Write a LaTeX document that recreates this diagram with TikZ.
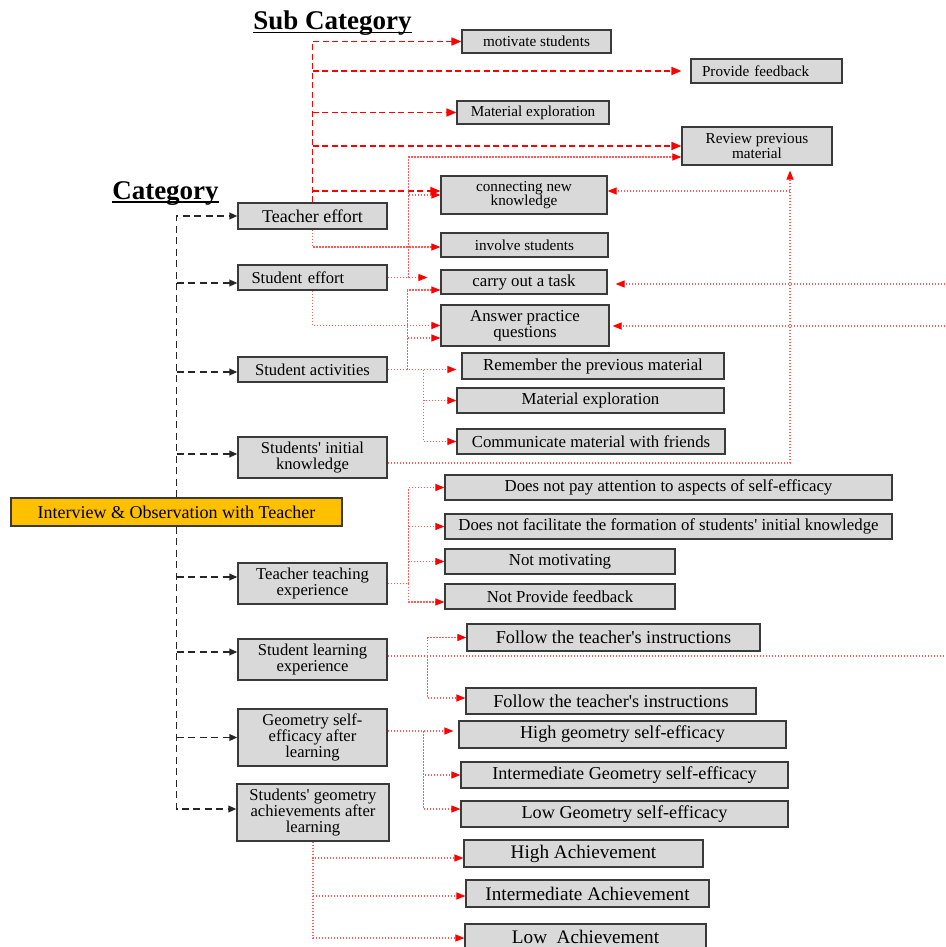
\documentclass[tikz,border=0pt]{standalone}
\usepackage{fontspec}
\setmainfont{Liberation Serif}
\usepackage{xcolor}
\usepackage{tikz}
\usetikzlibrary{arrows.meta}
\definecolor{boxgray}{HTML}{D9D9D9}
\definecolor{boxedge}{HTML}{3A3A3A}
\definecolor{amber}{HTML}{FFC000}
\definecolor{dotred}{HTML}{FF5A5A}

\begin{document}
\begin{tikzpicture}[x=1pt,y=-1pt,
	box/.style={draw=boxedge,fill=boxgray,line width=1.2pt,inner sep=0pt,align=center},
	catbox/.style={box,minimum width=149,font=\fontsize{16.6}{16}\selectfont},
	topbox/.style={box,font=\fontsize{15.2}{14.5}\selectfont},
	subbox/.style={box,font=\fontsize{16.8}{16}\selectfont},
	lowbox/.style={box,font=\fontsize{18.2}{18}\selectfont},
	achbox/.style={box,font=\fontsize{19.2}{19}\selectfont},
	title/.style={inner sep=0pt,anchor=base,font=\fontsize{27}{27}\selectfont\bfseries},
	catarrow/.style={draw=black!85,line width=1.9pt,dash pattern=on 7pt off 4.5pt,-{Triangle[length=8pt,width=6.5pt]}},
	tarrow/.style={draw=red,line width=1.5pt,dash pattern=on 6pt off 3.5pt,-{Triangle[length=10pt,width=8pt]}},
	dline/.style={draw=dotred,line width=1.1pt,dash pattern=on 1.5pt off 1.5pt},
	darrow/.style={dline,-{Triangle[length=9pt,width=7pt,color=red]}}]
 	\useasboundingbox (0,0) rectangle (945,947);
 	\node[title] (subcat) at (332.5,30) {Sub Category};
 	\draw[line width=1.4pt] ([yshift=-2.5]subcat.base west) -- ([yshift=-2.5]subcat.base east);
 	\node[title] (cat) at (165.5,199) {Category};
 	\draw[line width=1.4pt] ([yshift=-3]cat.base west) -- ([yshift=-3]cat.base east);
 	\node[box,fill=amber,minimum width=331,minimum height=28,font=\fontsize{18}{18}\selectfont] (main) at (176.5,512) {Interview \& Observation with Teacher};
 	\node[catbox,minimum height=26,font=\fontsize{18}{18}\selectfont] (t effort) at (312.5,216) {Teacher effort};
 	\node[catbox,minimum height=25,text width=122,align=left] (s effort) at (312.5,277.5) {Student effort};
 	\node[catbox,minimum height=25] (s act) at (312.5,369.5) {Student activities};
 	\node[catbox,minimum height=41] (s init) at (312.5,457.5) {Students\textquotesingle{} initial\\knowledge};
 	\node[catbox,minimum height=41] (t teach) at (312.5,583.5) {Teacher teaching\\experience};
 	\node[catbox,minimum height=41] (s learn) at (312.5,659.5) {Student learning\\experience};
 	\node[catbox,minimum height=57] (geo eff) at (312.5,737.5) {Geometry self-\\efficacy after\\learning};
 	\node[catbox,minimum width=152,minimum height=57] (geo ach) at (313,812.5) {Students\textquotesingle{} geometry\\achievements after\\learning};
 	\node[topbox,minimum width=149,minimum height=23] (motiv) at (536.5,41.5) {motivate students};
 	\node[topbox,minimum width=151,minimum height=24,text width=129,align=left] (feedback) at (766.5,71) {Provide feedback};
 	\node[topbox,minimum width=152,minimum height=23] (mat one) at (533,112.5) {Material exploration};
 	\node[topbox,minimum width=150,minimum height=38] (review) at (757,146) {Review previous\\material};
 	\node[topbox,minimum width=166,minimum height=38] (conn) at (524,195) {connecting new\\knowledge};
 	\node[topbox,minimum width=167,minimum height=24] (involve) at (524.5,245) {involve students};
 	\node[subbox,minimum width=166,minimum height=24] (carry) at (524,282) {carry out a task};
 	\node[subbox,minimum width=168,minimum height=41] (answer) at (525,325.5) {Answer practice\\questions};
 	\node[subbox,minimum width=262,minimum height=26] (remember) at (593,366) {Remember the previous material};
 	\node[subbox,minimum width=267,minimum height=25] (mat two) at (590.5,400.5) {Material exploration};
 	\node[subbox,minimum width=268,minimum height=25] (comm) at (591,441.5) {Communicate material with friends};
 	\node[subbox,minimum width=447,minimum height=25] (dnp) at (668.5,487.5) {Does not pay attention to aspects of self-efficacy};
 	\node[subbox,minimum width=447,minimum height=25] (dnf) at (668.5,526.5) {Does not facilitate the formation of students\textquotesingle{} initial knowledge};
 	\node[subbox,minimum width=230,minimum height=25] (not mot) at (560,561.5) {Not motivating};
 	\node[subbox,minimum width=230,minimum height=25] (not prov) at (560,596.5) {Not Provide feedback};
 	\node[lowbox,minimum width=293,minimum height=27] (follow one) at (613.5,637.5) {Follow the teacher\textquotesingle{}s instructions};
 	\node[lowbox,minimum width=290,minimum height=26] (follow two) at (611,701) {Follow the teacher\textquotesingle{}s instructions};
 	\node[lowbox,minimum width=327,minimum height=27] (high geo) at (622.5,734.5) {High geometry self-efficacy};
 	\node[lowbox,minimum width=327,minimum height=26] (int geo) at (624.5,775) {Intermediate Geometry self-efficacy};
 	\node[lowbox,minimum width=327,minimum height=26] (low geo) at (624.5,814) {Low Geometry self-efficacy};
 	\node[achbox,minimum width=239,minimum height=27] (high ach) at (583.5,853.5) {High Achievement};
 	\node[achbox,minimum width=243,minimum height=27] (int ach) at (587.5,893.5) {Intermediate Achievement};
 	\node[achbox,minimum width=241,minimum height=26] (low ach) at (585.5,937) {Low\ \ Achievement};
 	\draw[catarrow] (main.north) |- (t effort.west);
 	\draw[catarrow] ([yshift=-5.5]s effort.west -| main.north) -- ([yshift=-5.5]s effort.west);
 	\draw[catarrow] ([yshift=-2.5]s act.west -| main.north) -- ([yshift=-2.5]s act.west);
 	\draw[catarrow] ([yshift=3.5]s init.west -| main.north) -- ([yshift=3.5]s init.west);
 	\draw[catarrow] (main.south) |- ([yshift=3.5]geo ach.west);
 	\draw[catarrow] ([yshift=6.5]t teach.west -| main.south) -- ([yshift=6.5]t teach.west);
 	\draw[catarrow] ([yshift=7.5]s learn.west -| main.south) -- ([yshift=7.5]s learn.west);
 	\draw[catarrow] (geo eff.west -| main.south) -- (geo eff.west);
 	\draw[tarrow] (t effort.north) |- (motiv.west);
 	\draw[tarrow,shorten >=9pt] (t effort.north |- feedback.west) -- (feedback.west);
 	\draw[tarrow] (t effort.north |- mat one.west) -- (mat one.west);
 	\draw[tarrow] (t effort.north |- review.west) -- (review.west);
 	\draw[tarrow] ([yshift=4]conn.west -| t effort.north) -- ([yshift=4]conn.west);
 	\draw[darrow] (t effort.south) |- ([yshift=-2]involve.west);
 	\coordinate (se fork) at ([xshift=21]s effort.east);
 	\draw[darrow,shorten >=13pt] (s effort.east) -- (s effort.east -| carry.west);
 	\draw[darrow] (se fork) |- ([yshift=-11]review.west);
 	\draw[darrow] (conn.west -| se fork) -- (conn.west);
 	\draw[darrow] (s effort.south) |- (answer.west);
 	\coordinate (sa fork) at ([xshift=20]s act.east);
 	\coordinate (sa fork2) at ([xshift=36]s act.east);
 	\draw[darrow,shorten >=5pt] (s act.east) -- (s act.east -| remember.west);
 	\draw[darrow] (sa fork) |- ([yshift=-8]carry.west);
 	\draw[darrow] ([yshift=-12.5]answer.west -| sa fork) -- ([yshift=-12.5]answer.west);
 	\draw[darrow] (sa fork2) |- (mat two.west);
 	\draw[darrow] (sa fork2) |- (comm.west);
 	\draw[darrow,shorten >=5pt] ([yshift=-5.5]s init.east) -| ([xshift=33]review.south);
 	\draw[darrow] ([xshift=33,yshift=4]review.south |- conn.east) -- ([yshift=4]conn.east);
 	\coordinate (edge carry) at (945,284);
 	\coordinate (edge answer) at (945,326);
 	\draw[darrow,shorten >=8pt] (edge carry) -- (edge carry -| carry.east);
 	\draw[darrow,shorten >=3pt] (edge answer) -- (edge answer -| answer.east);
 	\coordinate (tt fork) at ([xshift=21]t teach.east);
 	\draw[dline] (t teach.east) -- (tt fork);
 	\draw[darrow] (tt fork) |- (dnp.west);
 	\draw[darrow] (tt fork) |- (dnf.west);
 	\draw[darrow] (tt fork) |- (not mot.west);
 	\draw[darrow] (tt fork) |- ([yshift=-5.5]not prov.west);
 	\coordinate (edge learn) at (945,656);
 	\coordinate (sl fork) at ([xshift=40,yshift=3.5]s learn.east);
 	\draw[dline] ([yshift=3.5]s learn.east) -- (edge learn);
 	\draw[darrow] (sl fork) |- (follow one.west);
 	\draw[darrow] (sl fork) |- ([yshift=3]follow two.west);
 	\coordinate (ge fork) at ([xshift=36,yshift=6.5]geo eff.east);
 	\draw[darrow,shorten >=5pt] ([yshift=6.5]geo eff.east) -- ([yshift=6.5]geo eff.east -| high geo.west);
 	\draw[darrow] (ge fork) |- (int geo.west);
 	\draw[darrow] (ge fork) |- ([yshift=5]low geo.west);
 	\draw[darrow] (geo ach.south) |- ([yshift=-4.5]high ach.west);
 	\draw[darrow] (geo ach.south) |- ([yshift=-2.5]int ach.west);
 	\draw[darrow] (geo ach.south) |- ([yshift=-1]low ach.west);
 \end{tikzpicture}
\end{document}
